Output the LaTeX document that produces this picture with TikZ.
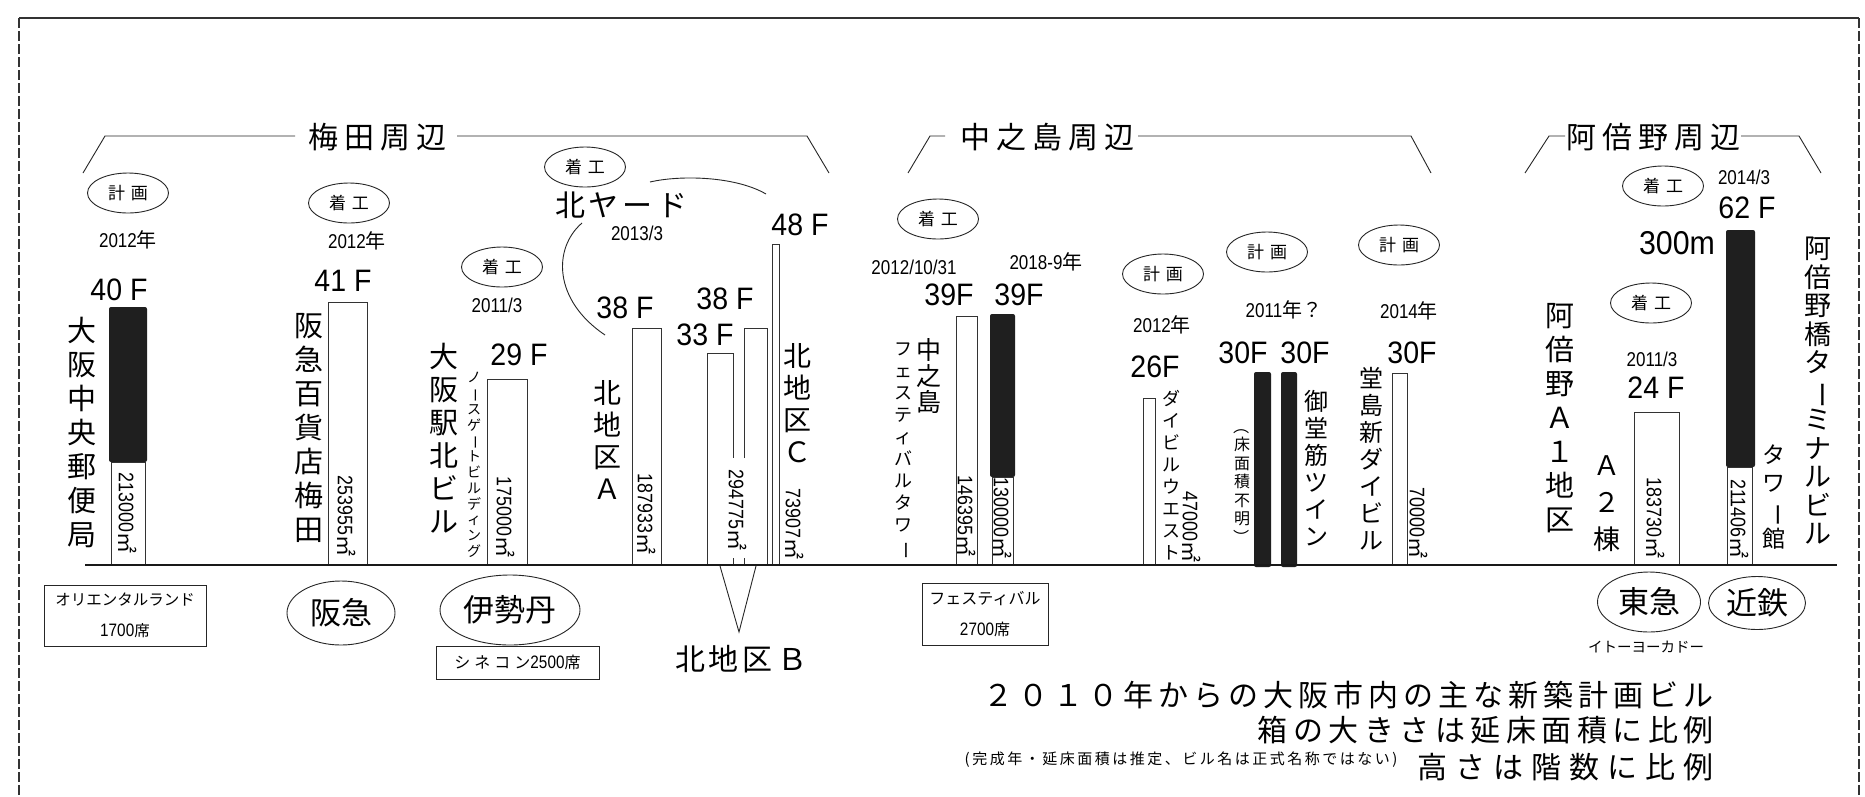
\documentclass[tikz,border=0pt]{standalone}
\usepackage{fontspec}
\usepackage{graphicx}
\usetikzlibrary{shapes.geometric}
\setmainfont{Noto Sans CJK JP}
\newfontfamily\jp{Noto Sans CJK JP}
\newfontfamily\nf[FakeStretch=0.85]{Liberation Sans}
\newfontfamily\nfb[FakeStretch=0.92]{Liberation Sans}
\def\lsamt{0pt}
\def\spacedloop#1#2{#1\ifx\relax#2\else\hspace{\lsamt}\expandafter\spacedloop\expandafter#2\fi}
\newcommand\spaced[2]{\def\lsamt{#1}\spacedloop#2\relax}
\newcommand\rb[1]{\rotatebox[origin=c]{-90}{#1}}
\tikzset{
  ln/.style={line width=0.9pt, draw=black!85},
  bx/.style={draw=black!80, line width=1pt},
  blk/.style={fill=black!88, rounded corners=2pt},
  oval/.style={ellipse, draw=black!85, line width=0.9pt, minimum width=81pt, minimum height=40pt, inner sep=0pt, font=\jp\fontsize{17}{17}\selectfont},
  fl/.style={inner sep=0pt, font=\fontsize{31}{31}\selectfont\nfb},
  dt/.style={inner sep=0pt, font=\fontsize{20}{20}\selectfont\nf},
  ar/.style={rotate=-90, inner sep=0pt, font=\fontsize{21}{21}\selectfont\nf},
  vn/.style 2 args={align=center, anchor=north, inner sep=0pt, font=\jp\fontsize{#1}{#2}\selectfont},
  hd/.style={inner sep=0pt, font=\jp\fontsize{30}{30}\selectfont},
  bigov/.style={ellipse, draw=black!85, line width=0.9pt, inner sep=0pt, font=\jp\fontsize{31}{31}\selectfont},
  sm/.style={inner sep=0pt, font=\jp\fontsize{15}{15}\selectfont},
  seat/.style={draw=black!85, line width=1pt, inner sep=0pt, align=center, font=\jp\fontsize{15.5}{31}\selectfont},
  ttl/.style={inner sep=0pt, anchor=east, font=\jp\fontsize{30}{30}\selectfont},
}
\begin{document}
\begin{tikzpicture}[x=1pt,y=-1pt]
\useasboundingbox (0,0) rectangle (1865,796);
\fill[white] (0,0) rectangle (1865,796);
% frame
\draw[line width=1.2pt, black!80] (19,18) -- (1859,18);
\draw[line width=1.5pt, black!80, dash pattern=on 10pt off 3pt] (19,18) -- (19,796);
\draw[line width=1.5pt, black!80, dash pattern=on 10pt off 3pt] (1859,18) -- (1859,796);

% headers
\node[hd] (h1) at (377,137) {\spaced{6pt}{梅田周辺}};
\node[hd] (h2) at (1047,137) {\spaced{6pt}{中之島周辺}};
\node[hd] (h3) at (1653,137) {\spaced{6pt}{阿倍野周辺}};
\draw[ln] (83,173) -- (105,136) -- (295,136);
\draw[ln] (457,136) -- (807,136) -- (829,173);
\draw[ln] (908,173) -- (930,136) -- (945,136);
\draw[ln] (1138,136) -- (1411,136) -- (1431,173);
\draw[ln] (1525,173) -- (1549,136) -- (1565,136);
\draw[ln] (1741,136) -- (1799,136) -- (1821,173);

% ===== Umeda =====
\node[oval] (o1) at (128,193) {計\hspace{6pt}画};
\node[dt] (d1) at (128,240) {2012{\jp 年}};
\node[fl] (f1) at (119,290) {40 F};
\fill[blk] (109,307) rectangle (147,462);
\draw[bx] (111,462) rectangle (145,565);
\node[ar] (a1) at (128,513) {213000{\jp ㎡}};
\node[vn={29}{34}] (n1) at (82,317) {大\\阪\\中\\央\\郵\\便\\局};

\node[oval] (o2) at (349,203) {着\hspace{6pt}工};
\node[dt] (d2) at (357,241) {2012{\jp 年}};
\node[fl] (f2) at (343,281) {41 F};
\draw[bx] (328,302) rectangle (367,565);
\node[ar] (a2) at (347,516) {253955{\jp ㎡}};
\node[vn={29}{34}] (n2) at (309,313) {阪\\急\\百\\貨\\店\\梅\\田};

\node[oval] (o3) at (502,267) {着\hspace{6pt}工};
\node[dt] (d3) at (497,305) {2011/3};
\node[fl] (f3) at (519,355) {29 F};
\draw[bx] (487,379) rectangle (527,565);
\node[ar] (a3) at (506,517) {175000{\jp ㎡}};
\node[vn={29}{33}] (n3) at (444,343) {大\\阪\\駅\\北\\ビ\\ル};
\node[vn={14}{15.8}] (n3s) at (474,372) {ノ\\\rb{ー}\\ス\\ゲ\\\rb{ー}\\ト\\ビ\\ル\\デ\\ィ\\ン\\グ};

% Kita yard
\node[oval] (o4) at (585,167) {着\hspace{6pt}工};
\node[hd] (ky) at (621,205) {\spaced{4pt}{北ヤード}};
\node[dt] (d4) at (637,233) {2013/3};
\coordinate (ky1) at (650,182);
\coordinate (ky2) at (766,194);
\coordinate (ky3) at (582,223);
\coordinate (ky4) at (605,335);
\draw[ln] (ky1) .. controls (680,175) and (735,176) .. (ky2);
\draw[ln] (ky3) .. controls (553,248) and (553,300) .. (ky4);

\node[fl] (f4) at (625,308) {38 F};
\draw[bx] (632,328) rectangle (661,565);
\node[ar] (a4) at (647,514) {187933{\jp ㎡}};
\node[vn={28}{32}] (n4) at (607,380) {北\\地\\区\\Ａ};

\node[fl] (f5) at (705,335) {33 F};
\node[fl] (f6) at (725,299) {38 F};
\draw[bx] (707,565) -- (707,353) -- (733,353) -- (733,458);
\draw[bx] (733,558) -- (733,565);
\draw[bx] (744,458) -- (744,328) -- (767,328) -- (767,565);
\draw[bx] (744,558) -- (744,565);
\node[ar] (a5) at (738,510) {294775{\jp ㎡}};
\coordinate (vb1) at (720,566);
\coordinate (vb2) at (756,566);
\coordinate (vtip) at (739,632);
\draw[ln] (vb1) -- (vtip) -- (vb2);
\node[hd] (nb) at (741,659) {\spaced{4pt}{北地区Ｂ}};

\node[fl] (f7) at (800,225) {48 F};
\draw[bx] (772,244) rectangle (779,565);
\node[ar] (a6) at (795,524) {73907{\jp ㎡}};
\node[vn={28}{32}] (n5) at (797,343) {北\\地\\区\\Ｃ};

% bottom Umeda
\node[seat, minimum width=162pt, minimum height=61pt] (or) at (125,615.5) {オリエンタルランド\\{\fontsize{18}{18}\selectfont\nf 1700}席};
\node[bigov, minimum width=108pt, minimum height=64pt] (hk) at (341,613) {阪急};
\node[bigov, minimum width=140pt, minimum height=70pt] (is) at (510,610) {伊勢丹};
\node[seat, minimum width=163pt, minimum height=33pt, font=\jp\fontsize{16}{16}\selectfont] (cn) at (517.5,662.5) {\spaced{4pt}{シネコン}{\fontsize{18}{18}\selectfont\nf 2500}席};

% ===== Nakanoshima =====
\node[oval] (o5) at (938,219) {着\hspace{6pt}工};
\node[dt] (d5) at (914,267) {2012/10/31};
\node[dt] (d6) at (1046,262) {2018-9{\jp 年}};
\node[fl] (f8) at (949,295) {39F};
\node[fl] (f9) at (1019,295) {39F};
\draw[bx] (956,316) rectangle (977,565);
\node[ar] (a7) at (967,516) {146395{\jp ㎡}};
\fill[blk] (990,314) rectangle (1015,477);
\draw[bx] (992,477) rectangle (1013,565);
\node[ar] (a8) at (1003,518) {130000{\jp ㎡}};
\node[vn={25}{26}] (n6) at (929,338) {中\\之\\島};
\node[vn={18}{22}] (n6s) at (903,343) {フ\\ェ\\ス\\テ\\ィ\\バ\\ル\\タ\\ワ\\\rb{ー}};

\node[oval] (o6) at (1163,274) {計\hspace{6pt}画};
\node[dt] (d7) at (1162,325) {2012{\jp 年}};
\node[fl] (f10) at (1155,367) {26F};
\draw[bx] (1143,398) rectangle (1155,565);
\node[vn={18}{22}] (n7s) at (1171,390) {ダ\\イ\\ビ\\ル\\ウ\\エ\\ス\\ト};
\node[ar] (a9) at (1192,527) {47000{\jp ㎡}};

\node[oval] (o7) at (1267,252) {計\hspace{6pt}画};
\node[dt] (d8) at (1284,310) {2011{\jp 年？}};
\node[fl] (f11) at (1243,353) {30F};
\node[fl] (f12) at (1305,353) {30F};
\fill[blk] (1254,372) rectangle (1271,567);
\fill[blk] (1281,372) rectangle (1297,567);
\node[vn={16}{18.5}] (n8s) at (1242,418) {\rb{（}\\床\\面\\積\\不\\明\\\rb{）}};
\node[vn={24}{27}] (n8) at (1316,390) {御\\堂\\筋\\ツ\\イ\\ン};

\node[oval] (o8) at (1399,245) {計\hspace{6pt}画};
\node[dt] (d9) at (1409,311) {2014{\jp 年}};
\node[fl] (f13) at (1412,353) {30F};
\draw[bx] (1392,373) rectangle (1407,565);
\node[ar] (a10) at (1419,523) {70000{\jp ㎡}};
\node[vn={24}{27}] (n9) at (1371,367) {堂\\島\\新\\ダ\\イ\\ビ\\ル};

\node[seat, minimum width=126pt, minimum height=62pt, font=\jp\fontsize{16}{31}\selectfont] (fs) at (985,614) {フェスティバル\\{\fontsize{18}{18}\selectfont\nf 2700}席};

% ===== Abeno =====
\node[vn={29}{34}] (n10) at (1560,303) {阿\\倍\\野\\Ａ\\１\\地\\区};
\node[oval] (o9) at (1651,303) {着\hspace{6pt}工};
\node[dt] (d10) at (1652,359) {2011/3};
\node[fl] (f14) at (1656,388) {24 F};
\draw[bx] (1634,412) rectangle (1679,565);
\node[ar] (a11) at (1656,518) {183730{\jp ㎡}};
\node[vn={27}{37}] (n11) at (1607,455) {Ａ\\２\\棟};

\node[oval] (o10) at (1663,186) {着\hspace{6pt}工};
\node[dt] (d11) at (1744,177) {2014/3};
\node[fl] (f15) at (1747,208) {62 F};
\node[fl, font=\fontsize{33}{33}\selectfont\nfb] (f16) at (1677,243) {300m};
\fill[blk] (1726,230) rectangle (1755,467);
\draw[bx] (1727,467) rectangle (1752,565);
\node[ar] (a12) at (1740,519) {211406{\jp ㎡}};
\node[vn={23}{28}] (n12) at (1774,445) {タ\\ワ\\\rb{ー}\\館};
\node[vn={27}{28.5}] (n13) at (1818,237) {阿\\倍\\野\\橋\\タ\\\rb{ー}\\ミ\\ナ\\ル\\ビ\\ル};

\node[bigov, minimum width=103pt, minimum height=60pt] (tk) at (1649,602) {東急};
\node[bigov, minimum width=97pt, minimum height=53pt] (kt) at (1757,603) {近鉄};
\node[sm, font=\jp\fontsize{14.5}{14.5}\selectfont] (iy) at (1646,647) {イトーヨーカドー};

% baseline
\draw[line width=1.2pt, black!90] (85,565) -- (1837,565);

% title
\node[ttl] (t1) at (1714,695) {\spaced{5pt}{２０１０年からの大阪市内の主な新築計画ビル}};
\node[ttl] (t2) at (1714,730) {\spaced{5.5pt}{箱の大きさは延床面積に比例}};
\node[ttl] (t3) at (1714,767) {\spaced{8pt}{高さは階数に比例}};
\node[sm] (nt) at (1181,760) {\spaced{2.5pt}{(完成年・延床面積は推定、ビル名は正式名称ではない)}};
\end{tikzpicture}
\end{document}
